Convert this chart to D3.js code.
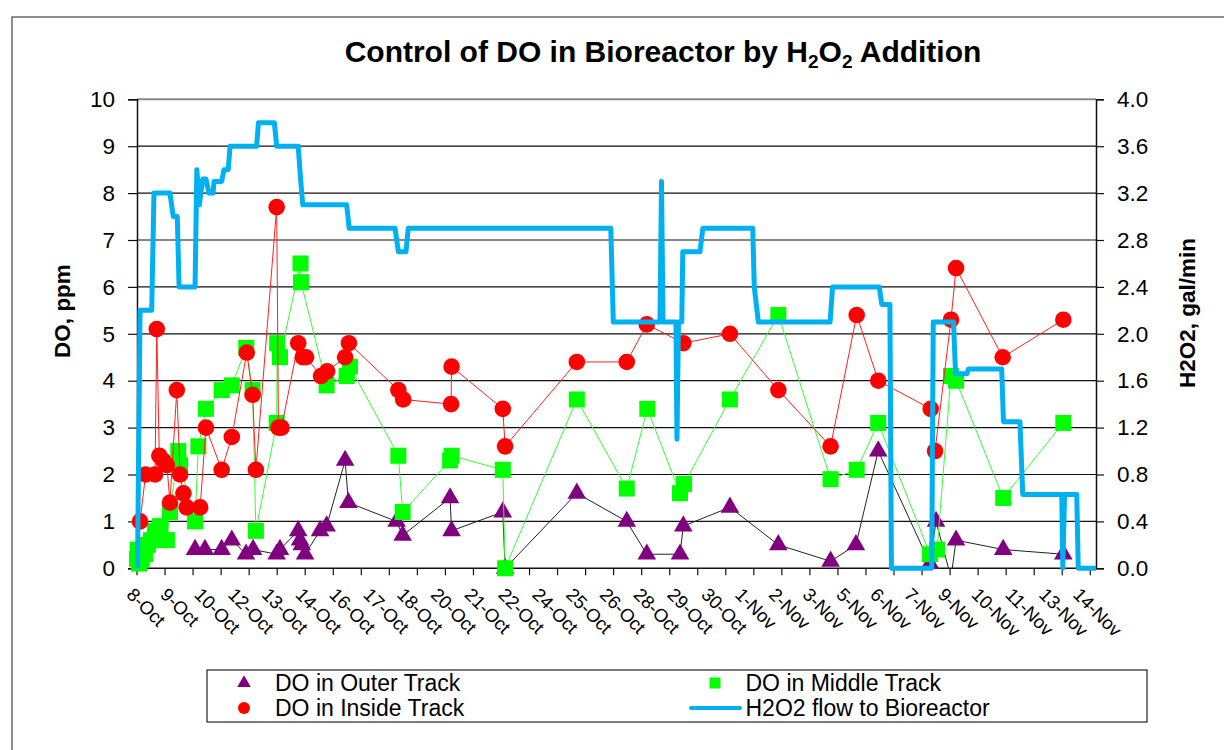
<!DOCTYPE html>
<html>
<head>
<meta charset="utf-8">
<script src="https://cdn.jsdelivr.net/npm/d3@7"></script>
<style>
  body { margin: 0; background: #fff; }
  svg { font-family: "Liberation Sans", Arial, sans-serif; }
</style>
</head>
<body>
<svg id="chart" width="1224" height="750"></svg>
<script>
// x positions are days after 8-Oct 00:00
const xTickLabels = ['8-Oct','9-Oct','10-Oct','12-Oct','13-Oct','14-Oct','16-Oct','17-Oct','18-Oct','20-Oct',
  '21-Oct','22-Oct','24-Oct','25-Oct','26-Oct','28-Oct','29-Oct','30-Oct','1-Nov','2-Nov','3-Nov','5-Nov',
  '6-Nov','7-Nov','9-Nov','10-Nov','11-Nov','13-Nov','14-Nov']
const leftTicks = [0,1,2,3,4,5,6,7,8,9,10]
const rightTicks = [0,0.4,0.8,1.2,1.6,2.0,2.4,2.8,3.2,3.6,4.0]

const outerDays = [2.29,2.68,3.34,3.74,4.30,4.58,5.51,5.64,6.36,6.43,6.50,6.63,7.22,7.48,8.21,8.34,
  10.24,10.48,12.35,12.41,14.43,14.52,17.35,19.32,20.11,21.42,21.55,23.39,25.30,27.36,28.36,29.24,
  31.28,31.52,32.11,32.31,34.17,36.54]
const outerDO = [0.4,0.4,0.4,0.6,0.3,0.4,0.3,0.4,0.8,0.6,0.5,0.3,0.8,0.9,2.3,1.4,
  1.0,0.7,1.5,0.8,1.2,0.0,1.6,1.0,0.3,0.3,0.9,1.3,0.5,0.15,0.5,2.5,
  0.1,1.0,-0.2,0.6,0.4,0.3]

const middleDays = [0.0,0.03,0.08,0.19,0.32,0.43,0.55,0.71,0.91,1.18,1.30,1.63,1.70,2.29,2.42,2.72,
  3.34,3.74,4.31,4.56,4.69,5.51,5.53,5.64,6.45,6.47,7.48,8.27,8.40,10.31,10.48,12.35,12.41,14.43,14.52,
  17.35,19.32,20.13,21.42,21.58,23.39,25.30,27.36,28.39,29.24,31.28,31.56,32.11,32.31,34.17,36.54]
const middleDO = [0.2,0.4,0.1,0.2,0.3,0.5,0.6,0.8,0.9,0.6,1.2,2.5,2.2,1.0,2.6,3.4,
  3.8,3.9,4.7,3.8,0.8,3.1,4.8,4.5,6.5,6.1,3.9,4.1,4.3,2.4,1.2,2.3,2.4,2.1,0.0,
  3.6,1.7,3.4,1.6,1.8,3.6,5.4,1.9,2.1,3.1,0.3,0.4,4.1,4.0,1.5,3.1]

const insideDays = [0.12,0.34,0.71,0.78,0.88,1.03,1.18,1.30,1.57,1.70,1.83,1.96,2.49,2.72,3.34,3.74,
  4.33,4.56,4.69,5.51,5.58,5.70,6.36,6.54,6.67,7.26,7.50,8.21,8.36,10.31,10.50,12.39,12.41,14.43,14.52,
  17.35,19.32,20.11,21.55,23.39,25.30,27.36,28.39,29.24,31.31,31.48,32.11,32.31,34.15,36.54]
const insideDO = [1.0,2.0,2.0,5.1,2.4,2.3,2.2,1.4,3.8,2.0,1.6,1.3,1.3,3.0,2.1,2.8,
  4.6,3.7,2.1,7.7,3.0,3.0,4.8,4.5,4.5,4.1,4.2,4.5,4.8,3.8,3.6,3.5,4.3,3.4,2.6,
  4.4,4.4,5.2,4.8,5.0,3.8,2.6,5.4,4.0,3.4,2.5,5.3,6.4,4.5,5.3]

const h2o2Days = [0.02,0.12,0.58,0.67,1.30,1.43,1.59,1.66,2.29,2.36,2.46,2.59,2.72,2.84,3.00,3.04,
  3.34,3.43,3.60,3.67,4.72,4.79,5.42,5.51,6.36,6.46,6.54,8.27,8.37,10.18,10.31,10.61,10.70,18.69,18.79,
  20.63,20.69,20.75,21.26,21.30,21.36,21.49,21.53,22.21,22.32,24.29,24.35,24.51,27.34,27.44,29.28,29.38,
  29.70,29.76,31.35,31.41,32.21,32.29,32.74,32.80,34.11,34.18,34.83,34.94,36.48,36.52,36.59,37.07,37.13,37.83]
const h2o2Flow = [0,2.2,2.2,3.2,3.2,3.0,3.0,2.4,2.4,3.4,3.1,3.32,3.32,3.2,3.2,3.3,
  3.3,3.4,3.4,3.6,3.6,3.8,3.8,3.6,3.6,3.3,3.1,3.1,2.9,2.9,2.7,2.7,2.9,2.9,2.1,
  2.1,3.3,2.1,2.1,1.1,2.1,2.1,2.7,2.7,2.9,2.9,2.4,2.1,2.1,2.4,2.4,2.25,
  2.25,0,0,2.1,2.1,1.66,1.66,1.7,1.7,1.25,1.25,0.63,0.63,0,0.63,0.63,0,0]

const svg = d3.select('#chart')
const plot = {left: 137, right: 1096, top: 99.3, bottom: 568.3}

svg.append('rect')
  .attr('x', 12).attr('y', 17).attr('width', 1230).attr('height', 750)
  .attr('fill', 'none').attr('stroke', '#444').attr('stroke-width', 1.2)

const x = d3.scaleLinear().domain([0, 37.83]).range([plot.left, plot.right])
const yL = d3.scaleLinear().domain([0, 10]).range([plot.bottom, plot.top])
const yR = d3.scaleLinear().domain([0, 4]).range([plot.bottom, plot.top])

svg.append('defs').append('clipPath').attr('id', 'plotClip')
  .append('rect')
  .attr('x', plot.left).attr('y', plot.top - 3)
  .attr('width', plot.right - plot.left).attr('height', plot.bottom - plot.top + 3)

// gridlines
svg.append('g').selectAll('line')
  .data(leftTicks.filter(d => d > 0))
  .join('line')
  .attr('x1', plot.left).attr('x2', plot.right)
  .attr('y1', d => yL(d)).attr('y2', d => yL(d))
  .attr('stroke', d => d === 10 ? '#8a8a8a' : '#111')
  .attr('stroke-width', d => d === 10 ? 2 : 1.2)

// left axis
const leftAxis = svg.append('g')
  .attr('transform', `translate(${plot.left},0)`)
  .call(d3.axisLeft(yL).tickValues(leftTicks).tickSize(9).tickPadding(13).tickFormat(d3.format('d')))
leftAxis.select('.domain').attr('stroke', '#111').attr('stroke-width', 1.5)
leftAxis.selectAll('.tick line').attr('stroke', '#111').attr('stroke-width', 1.2)
leftAxis.selectAll('text').attr('font-size', 22.5).attr('fill', '#000')
  .attr('font-family', '"Liberation Sans", Arial, sans-serif')

// right axis
const rightAxis = svg.append('g')
  .attr('transform', `translate(${plot.right},0)`)
  .call(d3.axisRight(yR).tickValues(rightTicks).tickSize(8).tickPadding(13).tickFormat(d3.format('.1f')))
rightAxis.select('.domain').attr('stroke', '#111').attr('stroke-width', 1.5)
rightAxis.selectAll('.tick line').attr('stroke', '#111').attr('stroke-width', 1.2)
rightAxis.selectAll('text').attr('font-size', 22.5).attr('fill', '#000')
  .attr('font-family', '"Liberation Sans", Arial, sans-serif')

// bottom axis: unlabeled tick marks and rotated date labels
const tickStep = 1.106
svg.append('line')
  .attr('x1', plot.left).attr('x2', plot.right)
  .attr('y1', plot.bottom).attr('y2', plot.bottom)
  .attr('stroke', '#111').attr('stroke-width', 1.5)
svg.append('g').selectAll('line')
  .data(d3.range(35))
  .join('line')
  .attr('x1', i => x(i * tickStep)).attr('x2', i => x(i * tickStep))
  .attr('y1', plot.bottom).attr('y2', plot.bottom + 7)
  .attr('stroke', '#111').attr('stroke-width', 1.2)

const labelDay = d3.scalePoint().domain(xTickLabels).range([0, 37.33])
svg.append('g').selectAll('text')
  .data(xTickLabels)
  .join('text')
  .attr('transform', d => `translate(${x(labelDay(d)) - 2},${plot.bottom + 18}) rotate(45)`)
  .attr('dy', '0.72em')
  .attr('font-size', 18.5)
  .text(d => d)

// series
const series = svg.append('g')
const lineOf = (xs, ys, yScale) => d3.line().x((d, i) => x(xs[i])).y(d => yScale(d))(ys)

series.append('path')
  .attr('d', lineOf(outerDays, outerDO, yL))
  .attr('clip-path', 'url(#plotClip)')
  .attr('fill', 'none').attr('stroke', '#222').attr('stroke-width', 1)
series.append('g').selectAll('path')
  .data(outerDO.map((v, i) => [outerDays[i], v]).filter(d => d[1] >= 0))
  .join('path')
  .attr('d', d3.symbol(d3.symbolTriangle, 150))
  .attr('transform', d => `translate(${x(d[0])},${yL(d[1])})`)
  .attr('fill', '#800080')

series.append('path')
  .attr('d', lineOf(middleDays, middleDO, yL))
  .attr('fill', 'none').attr('stroke', '#33ff33').attr('stroke-width', 1)
series.append('g').selectAll('rect')
  .data(middleDO.map((v, i) => [middleDays[i], v]))
  .join('rect')
  .attr('x', d => x(d[0]) - 8).attr('y', d => yL(d[1]) - 8)
  .attr('width', 16).attr('height', 16)
  .attr('fill', '#00ff00')

series.append('path')
  .attr('d', lineOf(insideDays, insideDO, yL))
  .attr('fill', 'none').attr('stroke', '#ff2020').attr('stroke-width', 1)
series.append('g').selectAll('circle')
  .data(insideDO.map((v, i) => [insideDays[i], v]))
  .join('circle')
  .attr('cx', d => x(d[0])).attr('cy', d => yL(d[1]))
  .attr('r', 8.3)
  .attr('fill', '#ff0000')

series.append('path')
  .attr('d', lineOf(h2o2Days, h2o2Flow, yR))
  .attr('fill', 'none').attr('stroke', '#00b0f0').attr('stroke-width', 5)
  .attr('stroke-linejoin', 'round')

// titles
const title = svg.append('text')
  .attr('x', 663).attr('y', 62)
  .attr('text-anchor', 'middle')
  .attr('font-size', 30).attr('font-weight', 'bold')
title.append('tspan').text('Control of DO in Bioreactor by H')
title.append('tspan').text('2').attr('font-size', 19).attr('dy', 6)
title.append('tspan').text('O').attr('dy', -6)
title.append('tspan').text('2').attr('font-size', 19).attr('dy', 6)
title.append('tspan').text(' Addition').attr('dy', -6)

svg.append('text')
  .attr('transform', 'translate(70,311) rotate(-90)')
  .attr('text-anchor', 'middle')
  .attr('font-size', 22.5).attr('font-weight', 'bold')
  .text('DO, ppm')

svg.append('text')
  .attr('transform', 'translate(1195,313) rotate(-90)')
  .attr('text-anchor', 'middle')
  .attr('font-size', 22.5).attr('font-weight', 'bold')
  .text('H2O2, gal/min')

// legend
const legend = svg.append('g')
legend.append('rect')
  .attr('x', 207).attr('y', 670).attr('width', 940).attr('height', 52)
  .attr('fill', '#fff').attr('stroke', '#222').attr('stroke-width', 1.2)

const legendItems = [
  {label: 'DO in Outer Track', kind: 'triangle', lx: 244, ly: 683},
  {label: 'DO in Inside Track', kind: 'circle', lx: 244, ly: 708},
  {label: 'DO in Middle Track', kind: 'square', lx: 715, ly: 683},
  {label: 'H2O2 flow to Bioreactor', kind: 'line', lx: 715, ly: 708}
]
legendItems.forEach(item => {
  if (item.kind === 'triangle') {
    legend.append('path').attr('d', d3.symbol(d3.symbolTriangle, 80))
      .attr('transform', `translate(${item.lx},${item.ly})`).attr('fill', '#800080')
  } else if (item.kind === 'circle') {
    legend.append('circle').attr('cx', item.lx).attr('cy', item.ly).attr('r', 6).attr('fill', '#ff0000')
  } else if (item.kind === 'square') {
    legend.append('rect').attr('x', item.lx - 5.5).attr('y', item.ly - 5.5)
      .attr('width', 11).attr('height', 11).attr('fill', '#00ff00')
  } else {
    legend.append('line').attr('x1', item.lx - 24).attr('x2', item.lx + 25)
      .attr('y1', item.ly).attr('y2', item.ly)
      .attr('stroke', '#00b0f0').attr('stroke-width', 4).attr('stroke-linecap', 'round')
  }
  legend.append('text')
    .attr('x', item.kind === 'triangle' || item.kind === 'circle' ? 275 : 745.5)
    .attr('y', item.ly).attr('dy', '0.35em')
    .attr('font-size', 23)
    .text(item.label)
})
</script>
</body>
</html>
